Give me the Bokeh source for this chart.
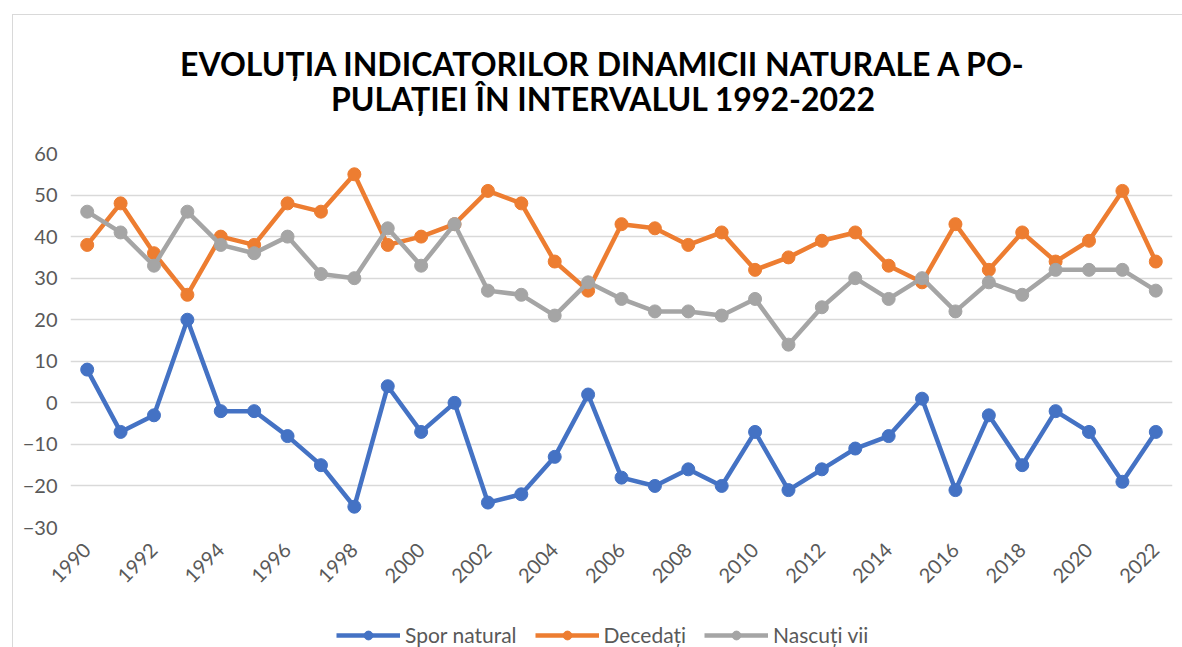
import math
from bokeh.plotting import figure
from bokeh.layouts import column
from bokeh.models import FixedTicker, Legend, LegendItem, Range1d, ColumnDataSource, InlineStyleSheet
from bokeh.core.properties import value
from bokeh.embed import file_html
from bokeh.resources import INLINE

years = list(range(1990, 2023))
spor_natural = [8, -7, -3, 20, -2, -2, -8, -15, -25, 4, -7, 0, -24, -22, -13, 2,
                -18, -20, -16, -20, -7, -21, -16, -11, -8, 1, -21, -3, -15, -2, -7, -19, -7]
decedati = [38, 48, 36, 26, 40, 38, 48, 46, 55, 38, 40, 43, 51, 48, 34, 27,
            43, 42, 38, 41, 32, 35, 39, 41, 33, 29, 43, 32, 41, 34, 39, 51, 34]
nascuti_vii = [46, 41, 33, 46, 38, 36, 40, 31, 30, 42, 33, 43, 27, 26, 21, 29,
               25, 22, 22, 21, 25, 14, 23, 30, 25, 30, 22, 29, 26, 32, 32, 32, 27]
series_names = ["Spor natural", "Decedați", "Nascuți vii"]
series_colors = ["#4472C4", "#ED7D31", "#A5A5A5"]
y_ticks = list(range(-30, 61, 10))
x_ticks = list(range(1990, 2023, 2))
title_lines = ["EVOLUȚIA INDICATORILOR DINAMICII NATURALE A PO-",
               "PULAȚIEI ÎN INTERVALUL 1992-2022"]

FONT = "Lato"
TXT = "#595959"
W = 1182
TH = 130            # title strip height (px)
FL, FR = 70, 1172   # frame left/right in page pixels (column aligns frames)


def strip(height, y_range):
    f = figure(width=W, height=height, output_backend="svg", toolbar_location=None,
               x_range=Range1d(FL, FR), y_range=y_range,
               x_axis_location=None, y_axis_location=None,
               min_border_left=FL, min_border_right=W - FR, min_border_top=0, min_border_bottom=0)
    f.grid.visible = False
    f.outline_line_color = None
    return f


# title strip (x and y in page pixels, y downward)
t = strip(TH, Range1d(TH, 0))
t.text(x=[603, 603], y=[63, 98], text=title_lines, text_align="center",
       text_baseline="middle", text_font=value(FONT), text_font_size="32px",
       text_font_style="bold", text_color="black")

# main chart
p = figure(width=W, height=622 - TH, output_backend="svg", toolbar_location=None,
           x_range=(1989.5, 2022.5), y_range=(-30, 60),
           min_border_left=FL, min_border_right=W - FR, min_border_top=153 - TH, min_border_bottom=95)
p.outline_line_color = None
p.xaxis.ticker = FixedTicker(ticks=x_ticks)
p.yaxis.ticker = FixedTicker(ticks=y_ticks)
for ax in (p.xaxis[0], p.yaxis[0]):
    ax.axis_line_color = None
    ax.major_tick_line_color = None
    ax.minor_tick_line_color = None
    ax.major_label_text_font = FONT
    ax.major_label_text_font_size = "20px"
    ax.major_label_text_color = TXT
p.yaxis.major_label_standoff = 7
p.xaxis.major_label_orientation = math.pi / 4
p.xaxis.major_label_standoff = 13
p.xgrid.grid_line_color = None
p.ygrid.grid_line_color = "#d9d9d9"
p.ygrid.grid_line_width = 1.5

for vals, col in zip([spor_natural, decedati, nascuti_vii], series_colors):
    p.line(years, vals, line_color=col, line_width=4.5)
    p.scatter(years, vals, size=13, fill_color=col, line_color=col)

# legend strip
q = strip(25, Range1d(0, 1))
items = []
for name, col in zip(series_names, series_colors):
    src = ColumnDataSource(dict(x=[-100, -99], y=[-100, -99]))
    r1 = q.line("x", "y", source=src, line_color=col, line_width=4.5)
    r2 = q.scatter("x", "y", source=src, size=13, fill_color=col, line_color=col)
    items.append(LegendItem(label=name, renderers=[r1, r2]))
legend = Legend(items=items, orientation="horizontal", location=(336 - FL, 0),
                label_text_font=FONT, label_text_font_size="21px", label_text_color=TXT,
                glyph_width=64, glyph_height=22, spacing=18, label_standoff=5,
                border_line_color=None, background_fill_alpha=0, margin=0, padding=0)
q.add_layout(legend, "center")

layout = column(t, p, q)
layout.stylesheets = [InlineStyleSheet(css=(
    ":host { position: relative; }"
    ":host::after { content: ''; position: absolute; left: 12px; top: 14px; "
    "width: 2000px; height: 2000px; border: 1px solid #d9d9d9; pointer-events: none; }"))]

open("out.html", "w").write(file_html(layout, INLINE))
